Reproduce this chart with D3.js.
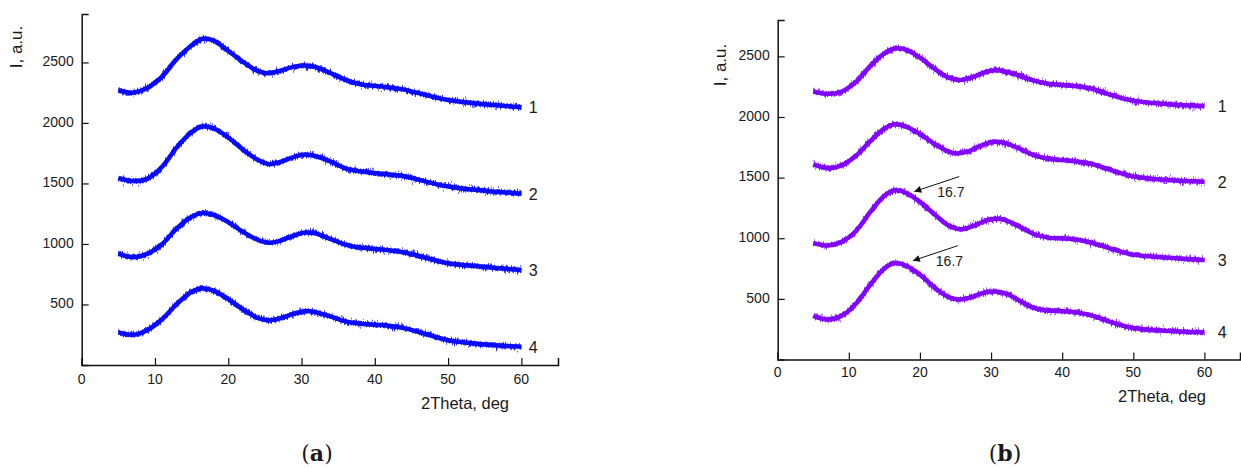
<!DOCTYPE html>
<html>
<head>
<meta charset="utf-8">
<script src="https://cdn.jsdelivr.net/npm/d3@7"></script>
<style>
  html, body { margin: 0; padding: 0; background: #fff; }
  svg { display: block; }
  text { font-family: "Liberation Sans", Arial, sans-serif; fill: #1a1a1a; }
</style>
</head>
<body>
<svg id="chart" width="1241" height="468"></svg>
<script>
// Diffraction angle grid (2Theta, deg)
const twoTheta = [5, 7, 9, 11, 13, 15, 16.5, 18, 20, 22, 24, 25.5, 27, 29, 30.5, 32, 34, 36, 38, 41, 44, 47, 50, 55, 60];

// Panel (a): intensity, a.u.
const a1 = [2270, 2250, 2290, 2385, 2530, 2640, 2695, 2680, 2595, 2505, 2430, 2410, 2430, 2465, 2475, 2460, 2410, 2355, 2320, 2300, 2275, 2230, 2190, 2155, 2130];
const a2 = [1545, 1520, 1540, 1640, 1800, 1925, 1970, 1955, 1880, 1780, 1695, 1660, 1675, 1720, 1740, 1725, 1680, 1625, 1600, 1580, 1560, 1515, 1475, 1440, 1415];
const a3 = [920, 890, 920, 1000, 1130, 1225, 1255, 1240, 1180, 1100, 1035, 1010, 1025, 1070, 1095, 1085, 1040, 995, 970, 955, 930, 885, 840, 810, 785];
const a4 = [270, 250, 290, 380, 505, 605, 635, 615, 545, 460, 390, 370, 385, 425, 445, 435, 400, 360, 340, 330, 305, 255, 205, 170, 150];

// Panel (b): intensity, a.u.
const b1 = [2210, 2190, 2210, 2290, 2420, 2525, 2565, 2555, 2490, 2400, 2325, 2305, 2320, 2365, 2385, 2375, 2340, 2300, 2275, 2260, 2235, 2180, 2135, 2105, 2090];
const b2 = [1610, 1580, 1600, 1680, 1800, 1905, 1940, 1920, 1860, 1780, 1715, 1700, 1720, 1775, 1795, 1785, 1740, 1685, 1655, 1640, 1615, 1560, 1510, 1480, 1465];
const b3 = [960, 940, 970, 1060, 1215, 1350, 1395, 1375, 1300, 1200, 1105, 1075, 1090, 1140, 1160, 1150, 1095, 1035, 1005, 995, 965, 910, 865, 840, 820];
const b4 = [360, 330, 360, 460, 615, 750, 795, 775, 700, 595, 515, 495, 510, 550, 560, 545, 485, 425, 405, 395, 365, 305, 260, 235, 225];

const curveNames = ["1", "2", "3", "4"];
const xTickValues = [0, 10, 20, 30, 40, 50, 60];
const yTickValues = [500, 1000, 1500, 2000, 2500];

// Peak annotations in panel (b): [2Theta, intensity, label]
const peakNotes = [
  { x: 19.2, y: 1385, label: "16.7" },
  { x: 19.0, y: 815, label: "16.7" }
];

const svg = d3.select("#chart");
const defs = svg.append("defs");

// Vertical jitter filters that give the scans their noisy texture
function addJitter(id, freq, scale, seed) {
  const f = defs.append("filter")
    .attr("id", id)
    .attr("filterUnits", "userSpaceOnUse")
    .attr("x", 0).attr("y", 0).attr("width", 1241).attr("height", 468);
  f.append("feTurbulence")
    .attr("type", "fractalNoise")
    .attr("baseFrequency", freq)
    .attr("numOctaves", 2)
    .attr("seed", seed)
    .attr("result", "noise");
  f.append("feColorMatrix")
    .attr("in", "noise")
    .attr("type", "matrix")
    .attr("values", "1 0 0 0 0  0 0 0 0 0.5  0 0 1 0 0  0 0 0 0 1")
    .attr("result", "map");
  f.append("feDisplacementMap")
    .attr("in", "SourceGraphic")
    .attr("in2", "map")
    .attr("scale", scale)
    .attr("xChannelSelector", "G")
    .attr("yChannelSelector", "R");
}
addJitter("jitterFine", "0.9 0.05", 9, 7);
addJitter("jitterSpike", "1.6 0.03", 16, 19);

defs.append("marker")
  .attr("id", "arrowhead")
  .attr("viewBox", "0 0 10 10")
  .attr("refX", 10).attr("refY", 5)
  .attr("markerWidth", 10).attr("markerHeight", 7)
  .attr("markerUnits", "userSpaceOnUse")
  .attr("orient", "auto")
  .append("path")
  .attr("d", "M0,0 L10,5 L0,10 z")
  .attr("fill", "#111");

function drawPanel(opt) {
  const g = svg.append("g");
  const x = d3.scaleLinear().domain([0, 65]).range([opt.left, opt.right]);
  const y = d3.scaleLinear().domain([0, opt.yMax]).range([opt.bottom, opt.top]);

  // x axis: ticks point into the plot
  const xAxis = g.append("g").attr("transform", `translate(0,${opt.bottom})`);
  xAxis.call(d3.axisTop(x).tickValues(d3.range(5, 66, 10)).tickSize(4).tickFormat(""));
  xAxis.call(d3.axisTop(x).tickValues(xTickValues).tickSize(7).tickFormat(""));
  xAxis.selectAll(".domain").attr("stroke", "#111").attr("stroke-width", 1.5);
  xAxis.selectAll(".tick line").attr("stroke", "#111").attr("stroke-width", 1.2);
  g.append("g").selectAll("text").data(xTickValues).join("text")
    .attr("x", d => x(d)).attr("y", opt.bottom + opt.xLabelGap)
    .attr("text-anchor", "middle").attr("dominant-baseline", "middle")
    .attr("font-size", 14).text(d => d);

  // y axis
  const yAxis = g.append("g").attr("transform", `translate(${opt.left},0)`);
  yAxis.call(d3.axisRight(y).tickValues(d3.range(250, opt.yMax, 500)).tickSize(4).tickFormat(""));
  yAxis.call(d3.axisRight(y).tickValues(yTickValues).tickSize(7).tickFormat(""));
  yAxis.selectAll(".domain").attr("stroke", "#111").attr("stroke-width", 1.5);
  yAxis.selectAll(".tick line").attr("stroke", "#111").attr("stroke-width", 1.2);
  g.append("g").selectAll("text").data(yTickValues).join("text")
    .attr("x", opt.left - 8).attr("y", d => y(d))
    .attr("text-anchor", "end").attr("dominant-baseline", "middle")
    .attr("font-size", 14).text(d => d);

  // axis titles
  g.append("text")
    .attr("transform", `translate(${opt.yTitleX},${opt.yTitleY}) rotate(-90)`)
    .attr("text-anchor", "middle").attr("dominant-baseline", "middle")
    .attr("font-size", 17).text("I, a.u.");
  g.append("text")
    .attr("x", opt.xTitleX).attr("y", opt.xTitleY)
    .attr("text-anchor", "middle").attr("dominant-baseline", "middle")
    .attr("font-size", 16.5).text("2Theta, deg");

  // scans
  const line = d3.line()
    .x(d => x(d[0])).y(d => y(d[1]))
    .curve(d3.curveCatmullRom.alpha(0.5));
  opt.series.forEach((vals, i) => {
    const pts = twoTheta.map((t, k) => [t, vals[k]]);
    g.append("path").datum(pts)
      .attr("d", line).attr("fill", "none")
      .attr("stroke", opt.color).attr("stroke-width", 2)
      .attr("stroke-opacity", 0.55)
      .attr("filter", "url(#jitterSpike)");
    g.append("path").datum(pts)
      .attr("d", line).attr("fill", "none")
      .attr("stroke", opt.color).attr("stroke-width", 4)
      .attr("stroke-opacity", 0.85)
      .attr("filter", "url(#jitterFine)");
    g.append("path").datum(pts)
      .attr("d", line).attr("fill", "none")
      .attr("stroke", opt.color).attr("stroke-width", 4.5);
    g.append("text")
      .attr("x", x(opt.nameX)).attr("y", y(vals[vals.length - 1]) + 2)
      .attr("text-anchor", "middle").attr("dominant-baseline", "middle")
      .attr("font-size", 16).text(curveNames[i]);
  });

  // panel letter
  const letter = svg.append("text")
    .attr("x", opt.letterX).attr("y", 455)
    .attr("text-anchor", "middle").attr("dominant-baseline", "middle")
    .style("font-family", "'DejaVu Serif', 'Liberation Serif', serif")
    .attr("font-size", 22);
  letter.append("tspan").text("(");
  letter.append("tspan").attr("font-weight", "bold").text(opt.letter);
  letter.append("tspan").text(")");

  return { x, y, g };
}

drawPanel({
  left: 81.7, right: 558, top: 14, bottom: 365, yMax: 2900,
  color: "#0a0aff", series: [a1, a2, a3, a4], nameX: 61.6,
  xLabelGap: 15, yTitleX: 18, yTitleY: 47, xTitleX: 465, xTitleY: 405,
  letter: "a", letterX: 317
});

const pb = drawPanel({
  left: 777.7, right: 1240, top: 20, bottom: 359.5, yMax: 2800,
  color: "#8206ff", series: [b1, b2, b3, b4], nameX: 62.5,
  xLabelGap: 13.5, yTitleX: 722, yTitleY: 65, xTitleX: 1162, xTitleY: 398,
  letter: "b", letterX: 1005
});

// peak position callouts
peakNotes.forEach(n => {
  const tx = pb.x(n.x), ty = pb.y(n.y);
  pb.g.append("line")
    .attr("x1", tx + 45).attr("y1", ty - 15)
    .attr("x2", tx).attr("y2", ty)
    .attr("stroke", "#111").attr("stroke-width", 1)
    .attr("marker-end", "url(#arrowhead)");
  pb.g.append("text")
    .attr("x", tx + 23).attr("y", ty + 2)
    .attr("dominant-baseline", "middle")
    .attr("font-size", 14).text(n.label);
});
</script>
</body>
</html>
